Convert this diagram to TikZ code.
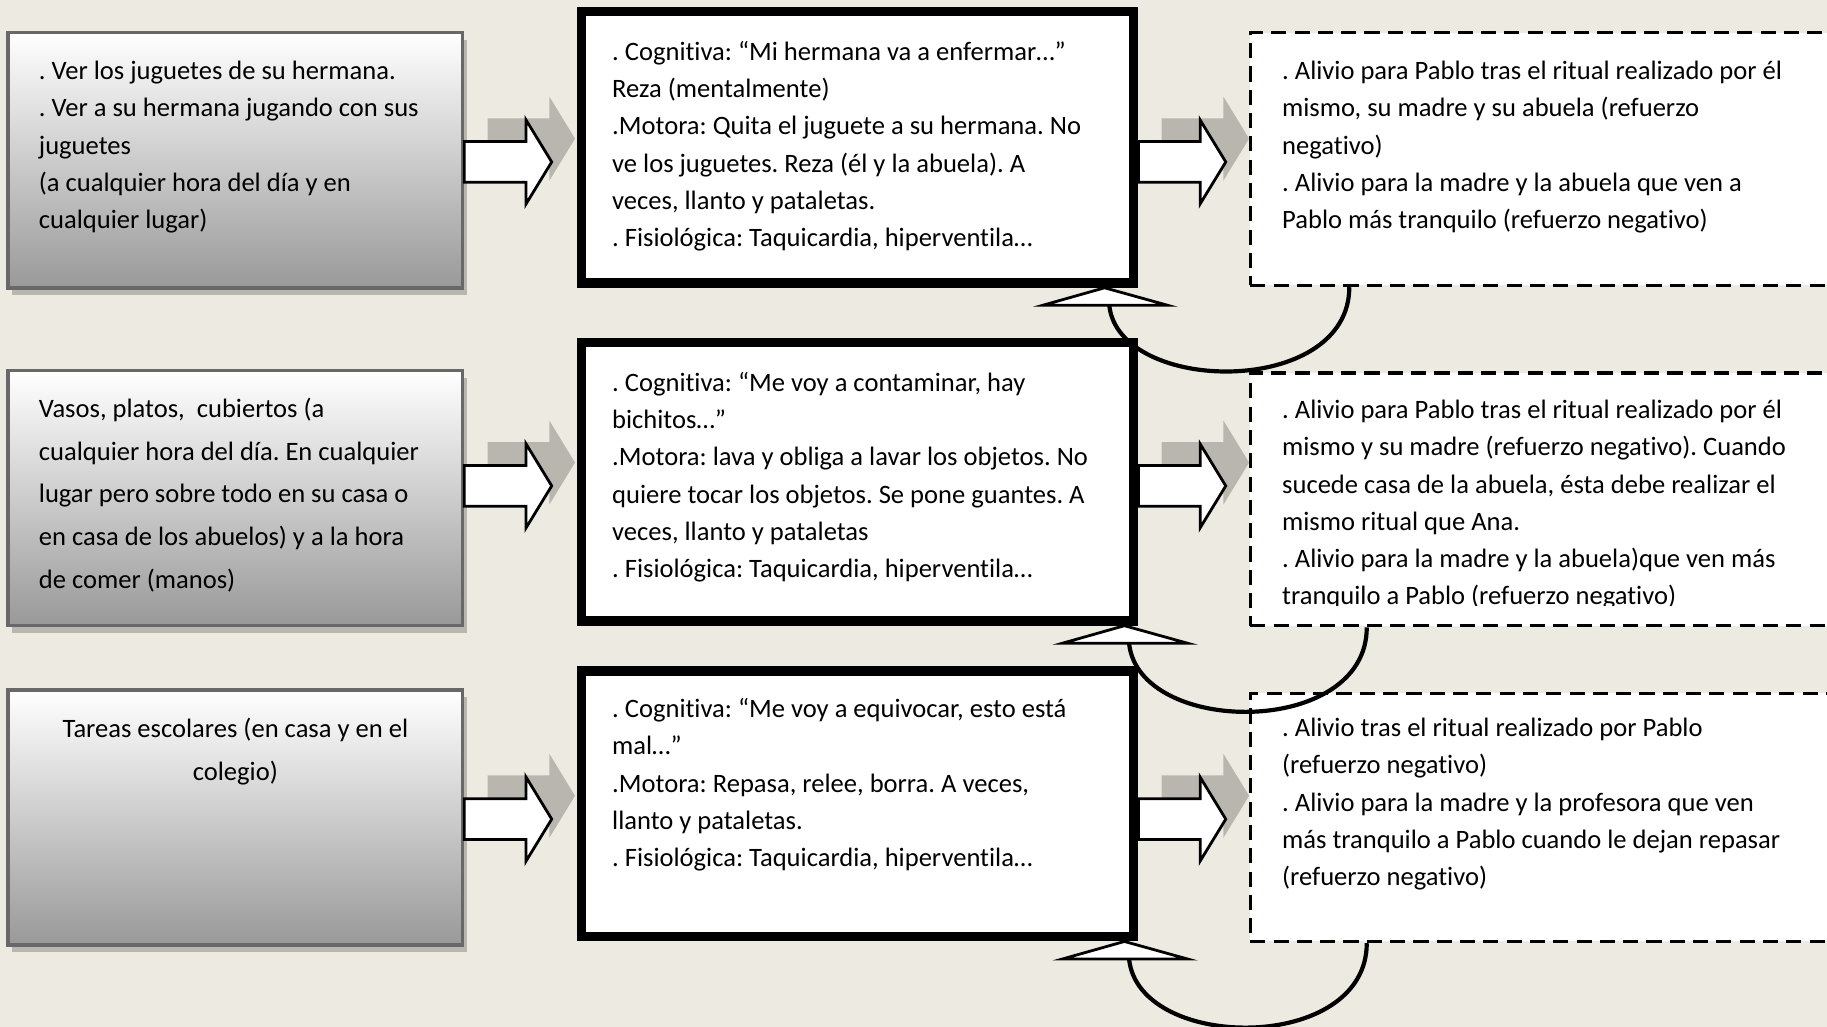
\documentclass[tikz,border=0pt]{standalone}
\usepackage{fontspec}
\setmainfont{Carlito}[Ligatures=NoCommon]
\frenchspacing
\usetikzlibrary{shadows}
\definecolor{fondo}{HTML}{EDEBE1}
\definecolor{sombra}{HTML}{B8B6AE}
\definecolor{bordegris}{HTML}{686868}
\definecolor{grisabajo}{HTML}{999999}
\tikzset{flecha/.pic={
  \fill[sombra] (20,-37.5) -- ++(53,0) -- ++(0,-18.5) -- ++(22,36) -- ++(-22,36) -- ++(0,-18.5) -- ++(-53,0) -- cycle;
  \draw[line width=1.2pt, fill=white, line join=miter] (0,-17.5) -- ++(53,0) -- ++(0,-18.5) -- ++(22,36) -- ++(-22,36) -- ++(0,-18.5) -- ++(-53,0) -- cycle;
}}
\begin{document}
\begin{tikzpicture}[x=0.5pt,y=-0.5pt,
  estimulo/.style={draw=bordegris, line width=1.5pt, top color=white, bottom color=grisabajo,
    minimum width=195pt, minimum height=109.5pt,
    drop shadow={shadow xshift=1.75pt, shadow yshift=-3pt, fill=sombra, opacity=1}},
  respuesta/.style={draw, line width=4pt, fill=white, minimum width=237pt},
  consecuencia/.style={draw, line width=1.5pt, dash pattern=on 6.5pt off 3.5pt, fill=white, minimum width=283.5pt},
  texto/.style={inner sep=0pt, anchor=north west, align=left, font=\fontsize{11.4}{16}\selectfont},
  retro/.style={line width=1.8pt},
  punta/.style={draw, line width=1.2pt, fill=white, line join=miter}]
	\clip (0,0) rectangle (1568,881);
	\fill[fondo] (0,0) rectangle (1568,881);
	% estimulos
	\node[estimulo] (e1) at (202,137.5) {};
	\node[estimulo] (e2) at (202,427.5) {};
	\node[estimulo] (e3) at (202,701.5) {};
	% respuestas
	\node[respuesta, minimum height=116.5pt] (r1) at (736,126.5) {};
	\node[respuesta, minimum height=119.5pt] (r2) at (736,413.5) {};
	\node[respuesta, minimum height=114pt] (r3) at (736,690) {};
	% consecuencias
	\node[consecuencia, minimum height=108.5pt] (c1) at (1356.5,136.5) {};
	\node[consecuencia, minimum height=108.5pt] (c2) at (1356.5,428.5) {};
	\node[consecuencia, minimum height=106.5pt] (c3) at (1356.5,701.5) {};
	% flechas
	\foreach \i/\fy in {1/139,2/417,3/703}{
		\pic at (e\i.east |- 0,\fy) {flecha};
		\pic at (r\i.east |- 0,\fy) {flecha};
	}
	% textos
	\node[texto] (e1t) at (33,52) {. Ver los juguetes de su hermana.\\. Ver a su hermana jugando con sus\\juguetes\\(a cualquier hora del día y en\\cualquier lugar)};
	\node[texto, font=\fontsize{11.4}{18.4}\selectfont] (e2t) at (33,341) {Vasos, platos,\ \ cubiertos (a\\cualquier hora del día. En cualquier\\lugar pero sobre todo en su casa o\\en casa de los abuelos) y a la hora\\de comer (manos)};
	\node[texto, anchor=north, align=center, font=\fontsize{11.4}{18.4}\selectfont] (e3t) at (202,616) {Tareas escolares (en casa y en el\\colegio)};
	\node[texto] (r1t) at (525,35) {. Cognitiva: “Mi hermana va a enfermar…”\\Reza (mentalmente)\\.Motora: Quita el juguete a su hermana. No\\ve los juguetes. Reza (él y la abuela). A\\veces, llanto y pataletas.\\. Fisiológica: Taquicardia, hiperventila…};
	\node[texto] (r2t) at (525,319) {. Cognitiva: “Me voy a contaminar, hay\\bichitos…”\\.Motora: lava y obliga a lavar los objetos. No\\quiere tocar los objetos. Se pone guantes. A\\veces, llanto y pataletas\\. Fisiológica: Taquicardia, hiperventila…};
	\node[texto] (r3t) at (525,599) {. Cognitiva: “Me voy a equivocar, esto está\\mal…”\\.Motora: Repasa, relee, borra. A veces,\\llanto y pataletas.\\. Fisiológica: Taquicardia, hiperventila…};
	\node[texto] (c1t) at (1100,52) {. Alivio para Pablo tras el ritual realizado por él\\mismo, su madre y su abuela (refuerzo\\negativo)\\. Alivio para la madre y la abuela que ven a\\Pablo más tranquilo (refuerzo negativo)};
	\begin{scope}
		\clip (1073,320) rectangle (1568,520);
		\node[texto] (c2t) at (1100,343) {. Alivio para Pablo tras el ritual realizado por él\\mismo y su madre (refuerzo negativo). Cuando\\sucede casa de la abuela, ésta debe realizar el\\mismo ritual que Ana.\\. Alivio para la madre y la abuela)que ven más\\tranquilo a Pablo (refuerzo negativo)};
	\end{scope}
	\node[texto] (c3t) at (1100,616) {. Alivio tras el ritual realizado por Pablo\\(refuerzo negativo)\\. Alivio para la madre y la profesora que ven\\más tranquilo a Pablo cuando le dejan repasar\\(refuerzo negativo)};
	% retroalimentacion
	\foreach \i/\xa/\xb/\ca in {1/948/1158/77,2/965/1173/80,3/965/1173/80}{
		\coordinate (v\i) at (r\i.south -| \xa,0);
		\draw[retro] (c\i.south -| \xb,0) .. controls +(0,95) and +(8,\ca) .. ([shift={(4,15)}]v\i);
		\draw[punta] (v\i) -- ++(-53,15) -- ++(107,0) -- cycle;
	}
\end{tikzpicture}
\end{document}
